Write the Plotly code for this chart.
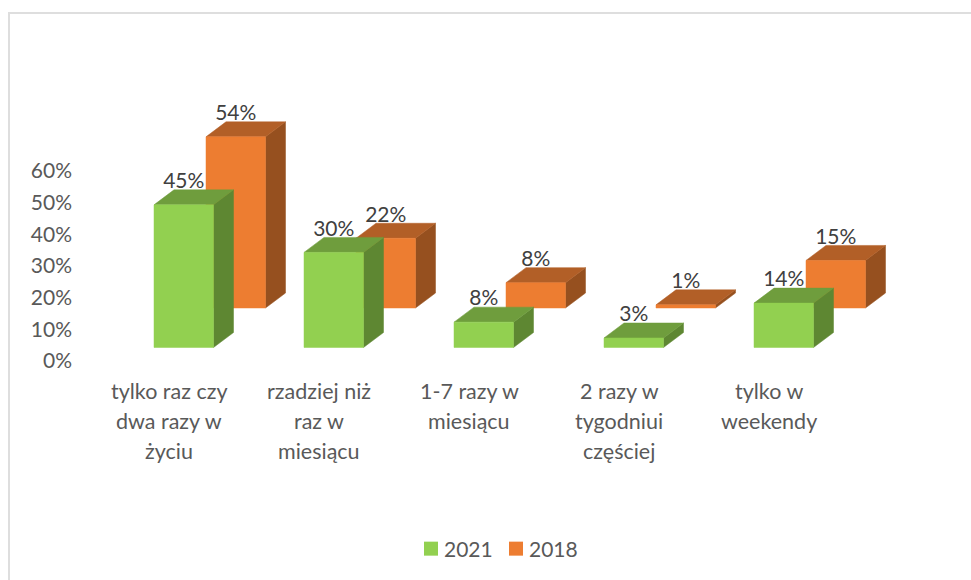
import plotly.graph_objects as go

categories = [
    ["tylko raz czy", "dwa razy w", "życiu"],
    ["rzadziej niż", "raz w", "miesiącu"],
    ["1-7 razy w", "miesiącu"],
    ["2 razy w", "tygodniui", "częściej"],
    ["tylko w", "weekendy"],
]
values_2021 = [45, 30, 8, 3, 14]
values_2018 = [54, 22, 8, 1, 15]
y_ticks = [0, 10, 20, 30, 40, 50, 60]

W, H = 971, 580
ML = 75
PX_PER_PCT = 3.17
PX_PER_CAT = 150.0
X0_PX = 169.0      # pixel of category 0 centre
Y0_PX = 361.0      # pixel of 0 % tick
FONT = "Lato"
FS = 21


def dx(px):
    return px / PX_PER_CAT


def dy(px):
    return px / PX_PER_PCT


BAR_W = dx(59.5)
DEPTH_X = dx(20)
DEPTH_Y = dy(15)

SERIES = {
    "2018": dict(vals=values_2018, xoff=dx(37), base=dy(361 - 308),
                 front="#ED7D31", top="#B25F27", side="#96501F"),
    "2021": dict(vals=values_2021, xoff=dx(-15), base=dy(361 - 347.5),
                 front="#92D050", top="#6F9D3D", side="#5E8732"),
}

fig = go.Figure()


def poly(xs, ys, color):
    fig.add_trace(go.Scatter(
        x=xs + xs[:1], y=ys + ys[:1], mode="lines", fill="toself",
        fillcolor=color, line=dict(color=color, width=0.5),
        hoverinfo="skip", showlegend=False))


label_x, label_y, label_t = [], [], []
for name, s in SERIES.items():
    for i, v in enumerate(s["vals"]):
        x0 = i + s["xoff"]
        x1 = x0 + BAR_W
        b = s["base"]
        t = b + v
        poly([x1, x1 + DEPTH_X, x1 + DEPTH_X, x1], [b, b + DEPTH_Y, t + DEPTH_Y, t], s["side"])
        poly([x0, x0 + DEPTH_X, x1 + DEPTH_X, x1], [t, t + DEPTH_Y, t + DEPTH_Y, t], s["top"])
        poly([x0, x1, x1, x0], [b, b, t, t], s["front"])
        label_x.append((x0 + x1) / 2)
        label_y.append(t + dy(22))
        label_t.append(f"{v}%")

fig.add_trace(go.Scatter(
    x=label_x, y=label_y, text=label_t, mode="text", textposition="middle center",
    textfont=dict(family=FONT, size=FS, color="#404040"),
    hoverinfo="skip", showlegend=False))

for name in ["2021", "2018"]:
    fig.add_trace(go.Scatter(
        x=[None], y=[None], mode="markers", name=name,
        marker=dict(symbol="square", size=14, color=SERIES[name]["front"])))

annotations = []
for i, lines in enumerate(categories):
    for k, line in enumerate(lines):
        annotations.append(dict(
            x=i, y=1 - (390.5 + 30 * k) / H, xref="x", yref="paper", text=line,
            showarrow=False, xanchor="center", yanchor="middle",
            font=dict(family=FONT, size=21.5, color="#595959")))

PW = W - ML
fig.update_layout(
    width=W, height=H, autosize=False,
    margin=dict(l=ML, r=0, t=0, b=0, pad=0),
    paper_bgcolor="white", plot_bgcolor="white",
    font=dict(family=FONT, size=FS, color="#595959"),
    xaxis=dict(range=[(ML - X0_PX) / PX_PER_CAT, (W - X0_PX) / PX_PER_CAT],
               showgrid=False, zeroline=False, showline=False,
               showticklabels=False, ticks="", fixedrange=True),
    yaxis=dict(range=[(Y0_PX - H) / PX_PER_PCT, Y0_PX / PX_PER_PCT],
               tickvals=y_ticks, ticktext=[f"{t}%" for t in y_ticks],
               showgrid=False, zeroline=False, showline=False, ticks="",
               ticklabelstandoff=2, fixedrange=True,
               tickfont=dict(family=FONT, size=FS, color="#595959")),
    legend=dict(orientation="h", x=(404 - ML) / PW, y=1 - 549 / H,
                xanchor="left", yanchor="middle",
                font=dict(family=FONT, size=FS, color="#595959"),
                itemwidth=30, entrywidth=40, entrywidthmode="pixels",
                tracegroupgap=0, bgcolor="rgba(0,0,0,0)"),
    annotations=annotations,
    shapes=[dict(type="rect", xref="paper", yref="paper",
                 x0=(9 - ML) / PW, x1=(1000 - ML) / PW,
                 y0=1 - 600 / H, y1=1 - 13 / H,
                 line=dict(color="#DEDEDE", width=2), layer="below")],
)

post = """
document.documentElement.style.margin = '0';
document.body.style.margin = '0';
document.body.style.overflow = 'hidden';
document.querySelectorAll('.legendsymbols').forEach(function (g) {
    g.setAttribute('transform', 'translate(7,0)');
});
document.querySelectorAll('.legend [clip-path], .legend .scrollbox').forEach(function (g) {
    g.removeAttribute('clip-path');
    g.style.clipPath = 'none';
});
"""

fig.write_html("out.html", config=dict(displayModeBar=False), post_script=post)
